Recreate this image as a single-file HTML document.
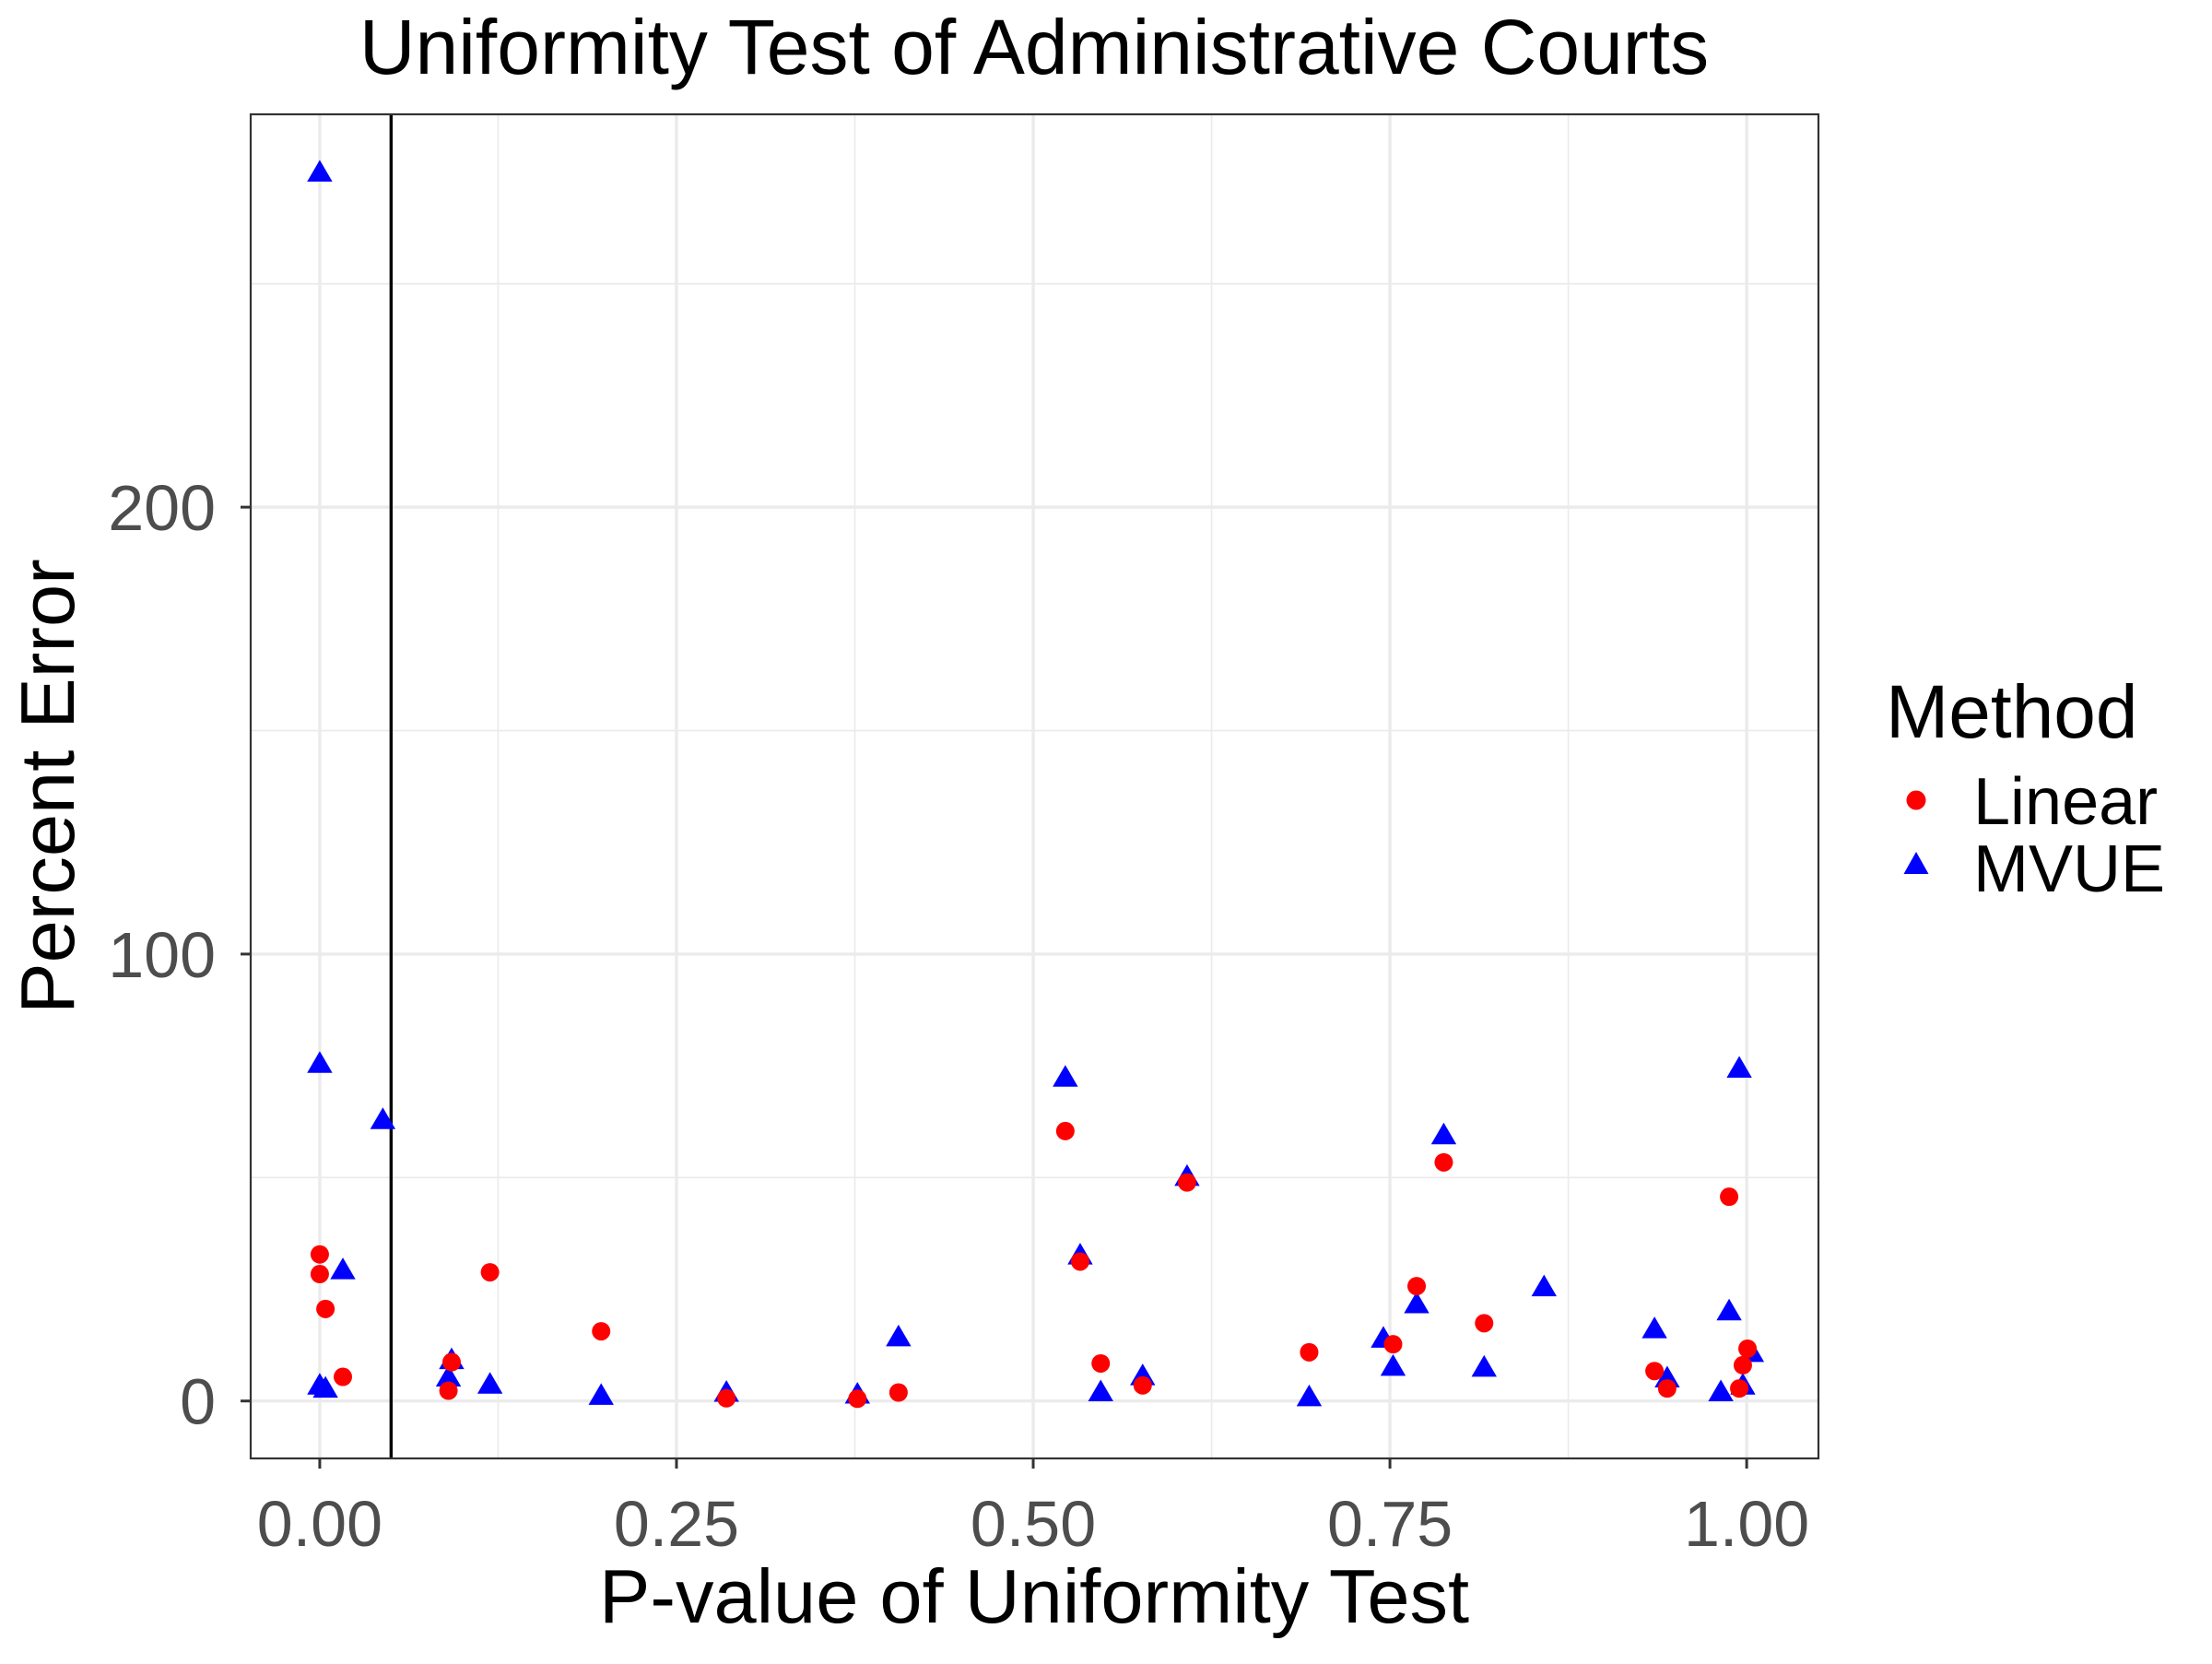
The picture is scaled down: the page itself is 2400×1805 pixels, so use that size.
<!DOCTYPE html>
<html><head><meta charset="utf-8"><style>
html,body{margin:0;padding:0;background:#fff;}
svg text{font-family:"Liberation Sans",Arial,sans-serif;}
</style></head><body>
<svg id="chart" width="2400" height="1800" viewBox="0 0 2400 1800" xmlns="http://www.w3.org/2000/svg">
<rect width="2400" height="1800" fill="#fff"/>
<g id="grid"></g>
<g id="marks"></g>
<g id="axes"></g>
<text x="1122" y="80" font-size="84" text-anchor="middle" fill="#000">Uniformity Test of Administrative Courts</text>
<text x="1122" y="1760" font-size="83" text-anchor="middle" fill="#000">P-value of Uniformity Test</text>
<text transform="translate(80,853) rotate(-90)" font-size="83" text-anchor="middle" fill="#000">Percent Error</text>
<g>
<text x="2046" y="800" font-size="82" fill="#000">Method</text>
<g>
<circle cx="2079" cy="868" r="10.5" fill="#ff0000"/>
<text x="2141" y="894" font-size="72" fill="#000">Linear</text>
</g>
<g>
<polygon points="2079,924 2065.5,948 2092.5,948" fill="#0000ff"/>
<text x="2141" y="967" font-size="72" fill="#000">MVUE</text>
</g>
</g>
</svg>
<script>
const linearX = [0.000,0.000,0.004,0.0162,0.1193,0.0924,0.0902,0.1972,0.285,0.3768,0.4056,0.5225,0.6078,0.5329,0.5473,0.5767,0.6934,0.7522,0.7687,0.7877,0.816,0.9354,0.9443,0.9877,1.0006,0.9973,0.9948];
const linearY = [32.8,28.4,20.6,5.4,28.8,8.7,2.3,15.6,0.6,0.5,1.9,60.4,48.9,31.2,8.4,3.5,10.9,12.7,25.7,53.4,17.4,6.7,2.8,45.7,11.7,8.0,2.8];
const mvueX = [0.000,0.000,0.0442,0.0162,0.000,0.004,0.0924,0.0902,0.1193,0.1972,0.285,0.3768,0.4056,0.5225,0.6078,0.5329,0.5473,0.5767,0.6934,0.7454,0.7522,0.7687,0.7877,0.816,0.858,0.9354,0.9443,0.9819,0.9877,0.9948,1.0034,0.9973];
const mvueY = [275.0,75.6,63.0,29.4,3.6,2.9,9.3,5.4,3.8,1.3,2.0,1.6,14.4,72.5,50.3,32.7,2.1,5.7,1.0,14.1,7.8,21.8,59.6,7.6,25.6,16.2,5.2,2.1,20.2,74.5,10.9,3.6];
const xTicks = [0, 0.25, 0.5, 0.75, 1.0];
const xTickLabels = ["0.00","0.25","0.50","0.75","1.00"];
const xMinor = [0.125, 0.375, 0.625, 0.875];
const yTicks = [0, 100, 200];
const yTickLabels = ["0","100","200"];
const yMinor = [50, 150, 250];
const vLineX = 0.05;

const PL=272, PR=1973, PT=124, PB=1582;
const X0=-0.0484, X1=1.0503, Y0=-12.85, Y1=287.9;
function sx(v){return PL+(v-X0)/(X1-X0)*(PR-PL);}
function sy(v){return PB-(v-Y0)/(Y1-Y0)*(PB-PT);}
const NS="http://www.w3.org/2000/svg";
function mk(tag,attrs,parent){const e=document.createElementNS(NS,tag);for(const k in attrs)e.setAttribute(k,attrs[k]);parent.appendChild(e);return e;}
const grid=document.getElementById('grid'), marks=document.getElementById('marks'), axes=document.getElementById('axes');
xMinor.forEach(v=>{const l=mk('line',{x1:sx(v),x2:sx(v),y1:PT,y2:PB,stroke:'#ebebeb','stroke-width':1.7},grid);

});
yMinor.forEach(v=>{const l=mk('line',{x1:PL,x2:PR,y1:sy(v),y2:sy(v),stroke:'#ebebeb','stroke-width':1.7},grid);

});
xTicks.forEach(v=>{const l=mk('line',{x1:sx(v),x2:sx(v),y1:PT,y2:PB,stroke:'#ebebeb','stroke-width':3.4},grid);

});
yTicks.forEach(v=>{const l=mk('line',{x1:PL,x2:PR,y1:sy(v),y2:sy(v),stroke:'#ebebeb','stroke-width':3.4},grid);

});
const vl=mk('line',{x1:sx(vLineX),x2:sx(vLineX),y1:PT,y2:PB,stroke:'#000','stroke-width':3.4},marks);


mvueX.forEach((v,i)=>{const cx=sx(v),cy=sy(mvueY[i]);
const p=mk('polygon',{points:`${cx},${cy-13} ${cx-13.7},${cy+10.5} ${cx+13.7},${cy+10.5}`,fill:'#0000ff'},marks);

});
linearX.forEach((v,i)=>{const c=mk('circle',{cx:sx(v),cy:sy(linearY[i]),r:10,fill:'#ff0000'},marks);

});
const border=mk('rect',{x:PL,y:PT,width:PR-PL,height:PB-PT,fill:'none',stroke:'#333','stroke-width':2.2},axes);


xTicks.forEach((v,i)=>{const t=mk('line',{x1:sx(v),x2:sx(v),y1:PB,y2:PB+11,stroke:'#333','stroke-width':3},axes);


const tx=mk('text',{x:sx(v),y:1677,'font-size':70,'text-anchor':'middle',fill:'#4d4d4d'},axes);
tx.textContent=xTickLabels[i];

});
yTicks.forEach((v,i)=>{const t=mk('line',{x1:PL-11,x2:PL,y1:sy(v),y2:sy(v),stroke:'#333','stroke-width':3},axes);


const tx=mk('text',{x:234,y:sy(v)+25,'font-size':70,'text-anchor':'end',fill:'#4d4d4d'},axes);
tx.textContent=yTickLabels[i];

});
</script>
</body></html>
